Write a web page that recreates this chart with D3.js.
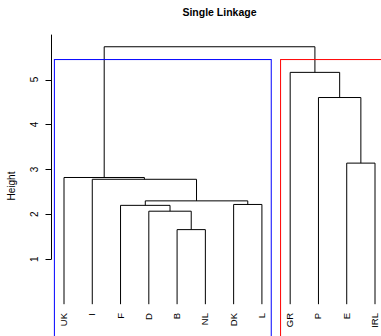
<html lang="en">
  <head>
    <meta charset="utf-8">
    <title>Single Linkage</title>
    <script src="https://d3js.org/d3.v7.min.js"></script>
    <style>
      body { margin: 0; background: #fff; }
      text { font-family: "Liberation Sans", Arial, Helvetica, sans-serif; fill: #000; }
      .link { fill: none; stroke: #000; stroke-width: 1; }
    </style>
  </head>
  <body>
    <script type="text/javascript">

    // leaf order as drawn
    var labels = ["UK", "I", "F", "D", "B", "NL", "DK", "L", "GR", "P", "E", "IRL"];
    // R-style merge matrix: negative = leaf (1-based), positive = earlier merge row
    var mergeLeft  = [-5, -4, -3, -7, 3, -2, -1, -11, -10, -9, 7];
    var mergeRight = [-6,  1,  2, -8, 4,  5,  6, -12,   8,  9, 10];
    var heights    = [1.66, 2.07, 2.20, 2.22, 2.30, 2.78, 2.82, 3.14, 4.60, 5.16, 5.73];
    var yTicks = [1, 2, 3, 4, 5];
    // clusters from cutree(k = 2), as leaf index ranges
    var clusterStart = [1, 9];
    var clusterEnd   = [8, 12];
    var clusterColor = ["#0000ff", "#ff0000"];

    var w = 381, h = 336;

    var x = d3.scaleLinear().domain([1, 12]).range([64, 375]);
    var y = d3.scaleLinear().domain([0, 6]).range([304.2, 304.2 - 6 * 44.93]);

    var svg = d3.select("body").append("svg")
      .attr("width", w)
      .attr("height", h);

    // title
    svg.append("text")
      .attr("x", 219.5)
      .attr("y", 16)
      .style("text-anchor", "middle")
      .style("font-weight", "bold")
      .style("font-size", "10.5px")
      .text("Single Linkage");

    // y axis (R style: line from first tick up to top)
    var axisX = 51.5;
    var ax = svg.append("g");
    ax.append("line")
      .attr("x1", axisX).attr("x2", axisX)
      .attr("y1", y(1)).attr("y2", y(6))
      .attr("stroke", "#000");
    ax.selectAll(".tick").data(yTicks).enter().append("line")
      .attr("x1", axisX - 6).attr("x2", axisX)
      .attr("y1", function(d) { return Math.round(y(d)) + 0.5; })
      .attr("y2", function(d) { return Math.round(y(d)) + 0.5; })
      .attr("stroke", "#000");
    ax.selectAll(".tl").data(yTicks).enter().append("text")
      .attr("transform", function(d) { return "translate(37.5," + y(d) + ") rotate(-90)"; })
      .style("text-anchor", "middle")
      .style("font-size", "10px")
      .text(function(d) { return d; });

    svg.append("text")
      .attr("transform", "translate(14.5,186) rotate(-90)")
      .style("text-anchor", "middle")
      .style("font-size", "10px")
      .text("Height");

    // compute x position and height of each node
    function nodeX(i) {
      return i < 0 ? -i : merged[i - 1].x;
    }
    function nodeH(i) {
      return i < 0 ? 0 : heights[i - 1];
    }
    var merged = [];
    heights.forEach(function(hh, k) {
      var a = mergeLeft[k], b = mergeRight[k];
      merged.push({ a: a, b: b, h: hh, x: (nodeX(a) + nodeX(b)) / 2 });
    });

    // dendrogram links
    svg.selectAll(".link").data(merged).enter().append("path")
      .attr("class", "link")
      .attr("d", function(m) {
        var xa = x(nodeX(m.a)), xb = x(nodeX(m.b));
        var ya = y(nodeH(m.a)), yb = y(nodeH(m.b)), ym = y(m.h);
        return "M" + xa + "," + ya + "V" + ym + "H" + xb + "V" + yb;
      });

    // leaf labels
    svg.selectAll(".leaf").data(labels).enter().append("text")
      .attr("transform", function(d, i) { return "translate(" + (x(i + 1) + 3) + ",313) rotate(-90)"; })
      .style("text-anchor", "end")
      .style("font-size", "9.5px")
      .text(function(d) { return d; });

    // rect.hclust boxes
    var cutH = (heights[heights.length - 2] + heights[heights.length - 1]) / 2;
    svg.selectAll(".box").data(clusterStart).enter().append("rect")
      .attr("x", function(d) { return x(d - 0.34); })
      .attr("y", y(cutH))
      .attr("width", function(d, i) { return x(clusterEnd[i] + 0.33) - x(d - 0.34); })
      .attr("height", h + 10 - y(cutH))
      .attr("fill", "none")
      .attr("stroke", function(d, i) { return clusterColor[i]; })
      .attr("stroke-width", 1);

    </script>
  </body>
</html>
